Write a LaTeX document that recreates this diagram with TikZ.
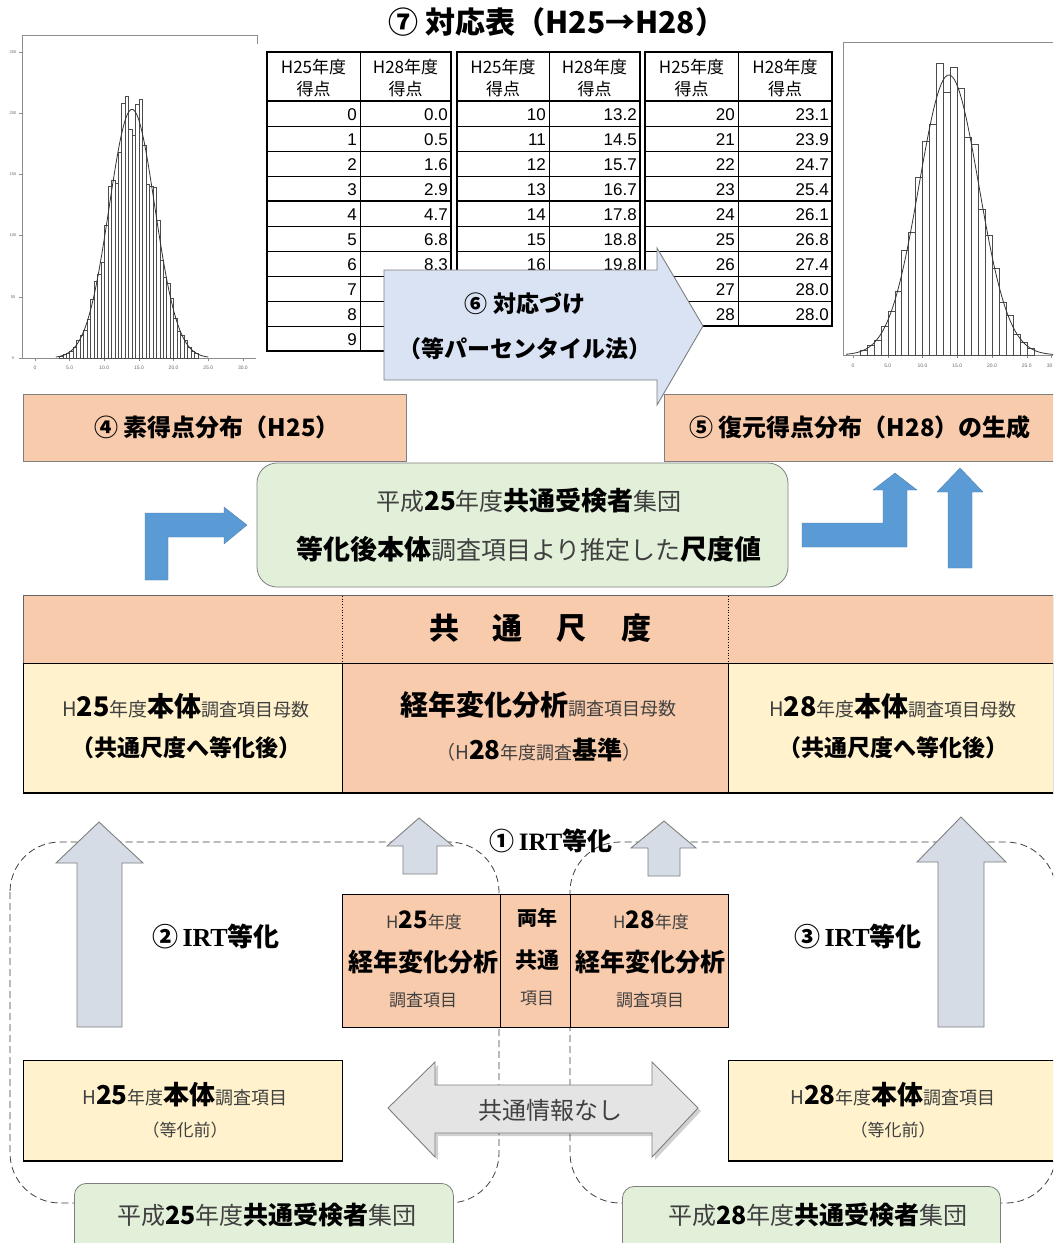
\documentclass[tikz,border=0pt]{standalone}
\usepackage{fontspec}
\setmainfont{Noto Sans CJK JP}
\newfontfamily\lsans{Liberation Sans}
\newfontfamily\lserif{Liberation Serif}
\definecolor{peach}{HTML}{F8CBAD}
\definecolor{lyellow}{HTML}{FFF2CC}
\definecolor{lgreen}{HTML}{E2F0D9}
\definecolor{lblue}{HTML}{DAE3F3}
\definecolor{gblue}{HTML}{D6DCE5}
\definecolor{mblue}{HTML}{5B9BD5}
\definecolor{lgray}{HTML}{E4E4E4}
\definecolor{txtg}{HTML}{404040}
\definecolor{edge}{HTML}{7F7F7F}
\newcommand\fsz[1]{\fontsize{#1}{#1}\selectfont}
\newcommand\bx[2]{{\fsz{#1}\bfseries #2}}
\newcommand\rx[2]{{\fsz{#1}\color{txtg}#2}}
\tikzset{
  txt/.style={inner sep=0pt, outer sep=0pt, anchor=center},
  numtxt/.style={inner sep=0pt, anchor=east, font=\lsans\fsz{17}},
  hdrtxt/.style={inner sep=0pt, anchor=center, font=\fsz{17}},
  rowline/.style={draw=black, line width=0.6pt},
  tborder/.style={draw=black, line width=1.8pt},
  boxst/.style={draw=edge, line width=0.8pt},
  cellst/.style={draw=black, line width=0.8pt},
  histbar/.style={draw=black!70, line width=0.35pt, fill=white},
  histcurve/.style={draw=black!80, line width=0.8pt},
  axisst/.style={draw=black!45, line width=0.8pt},
  uparrow/.style={fill=gblue, draw=edge, line width=0.9pt, line join=miter},
  bluearrow/.style={fill=mblue, draw=mblue!80!black, line width=0.3pt},
  dashrect/.style={draw=black!75, dashed, dash pattern=on 7pt off 4pt, line width=0.8pt, rounded corners=50pt},
}
% table: xL xM xR nrows prefix
\newcommand\cortable[5]{%
  \foreach \k in {1,...,#4} {\draw[rowline] (#1,{101+25*\k}) -- (#3,{101+25*\k});}
  \draw[rowline] (#2,52) -- (#2,{101+25*#4});
  \draw[draw=black, line width=1.2pt] (#1,201) -- (#3,201);
  \draw[tborder] (#1,101) -- (#3,101);
  \draw[tborder] (#1,52) rectangle (#3,{101+25*#4});
  \node[hdrtxt] (#5ha) at ({(#1+#2)/2},67) {H25年度};
  \node[hdrtxt] (#5hb) at ({(#1+#2)/2},89) {得点};
  \node[hdrtxt] (#5hc) at ({(#2+#3)/2},67) {H28年度};
  \node[hdrtxt] (#5hd) at ({(#2+#3)/2},89) {得点};
}
\begin{document}
\begin{tikzpicture}[x=1pt,y=-1pt]
\clip (0,0) rectangle (1053,1243);
\fill[white] (0,0) rectangle (1053,1243);

% ---------- title ----------
\node[txt] (title) at (557,22) {\bx{30}{⑦ 対応表（H25→H28）}};

% ---------- left histogram ----------
\draw[axisst] (22,358) -- (22,35) -- (257,35) -- (257,44);
\draw[axisst] (22,358) -- (256,358);
\foreach \v/\lab in {0/0,50/50,100/100,150/150,200/200,250/250} {
  \draw[axisst, line width=0.5pt] (19,{358-1.225*\v}) -- (22,{358-1.225*\v});
  \node[txt, font=\lsans\fsz{4}, text=black!60] (lyl\v) at (13,{358-1.225*\v}) {\lab};
}
\foreach \s/\lab in {0/0,5/5.0,10/10.0,15/15.0,20/20.0,25/25.0,30/30.0} {
  \draw[axisst, line width=0.5pt] ({35+6.93*\s},358) -- ({35+6.93*\s},361);
  \node[txt, font=\lsans\fsz{5}, text=black!60] (lxl\s) at ({35+6.93*\s},368) {\lab};
}
\foreach \s in {3.5,4.0,...,23.0} {
  \pgfmathsetmacro\hh{203*exp(-((\s+0.25-14)*(\s+0.25-14))/21.78)*(1+0.12*sin(\s*557))}
  \draw[histbar] ({35+6.93*\s},358) rectangle ({35+6.93*(\s+0.5)},{358-1.225*\hh});
}
\draw[histcurve] plot[domain=3:25, samples=90, smooth] ({35+6.93*\x},{358-1.225*203*exp(-(\x-14)*(\x-14)/21.78)});

% ---------- right histogram ----------
\draw[axisst] (843,355) -- (843,42) -- (1053,42);
\draw[axisst] (843,355) -- (1053,355);
\foreach \s/\lab in {0/0,5/5.0,10/10.0,15/15.0,20/20.0,25/25.0} {
  \draw[axisst, line width=0.5pt] ({853+6.95*\s},355) -- ({853+6.95*\s},358);
  \node[txt, font=\lsans\fsz{5}, text=black!60] (rxl\s) at ({853+6.95*\s},366) {\lab};
}
\draw[axisst, line width=0.5pt] (1051.5,355) -- (1051.5,358);
\node[txt, anchor=east, font=\lsans\fsz{5}, text=black!60] (rxl30) at (1052.5,366) {30};
\foreach \s in {1,...,25} {
  \pgfmathsetmacro\hh{283*exp(-((\s+0.5-13.8)*(\s+0.5-13.8))/36.98)*(1+0.08*sin(\s*577))}
  \draw[histbar] ({853+6.95*\s},355) rectangle ({853+6.95*(\s+1)},{355-\hh});
}
\draw[histcurve] plot[domain=-1:29, samples=100, smooth] ({853+6.95*\x},{355-280*exp(-(\x-13.8)*(\x-13.8)/36.98)});

% ---------- correspondence tables ----------
\cortable{267}{360}{451}{10}{ta}
\cortable{457}{549}{640}{10}{tb}
\cortable{645}{738}{832}{9}{tc}
\foreach \a/\b [count=\i from 0] in {0/0.0,1/0.5,2/1.6,3/2.9,4/4.7,5/6.8,6/8.3} {
  \node[numtxt] (taa\i) at (357,{114.5+25*\i}) {\a};
  \node[numtxt] (tab\i) at (448,{114.5+25*\i}) {\b};
}
\foreach \a [count=\i from 7] in {7,8,9} {
  \node[numtxt] (taa\i) at (357,{114.5+25*\i}) {\a};
}
\foreach \a/\b [count=\i from 0] in {10/13.2,11/14.5,12/15.7,13/16.7,14/17.8,15/18.8,16/19.8} {
  \node[numtxt] (tba\i) at (546,{114.5+25*\i}) {\a};
  \node[numtxt] (tbb\i) at (637,{114.5+25*\i}) {\b};
}
\foreach \a/\b [count=\i from 0] in {20/23.1,21/23.9,22/24.7,23/25.4,24/26.1,25/26.8,26/27.4,27/28.0,28/28.0} {
  \node[numtxt] (tca\i) at (735,{114.5+25*\i}) {\a};
  \node[numtxt] (tcb\i) at (829,{114.5+25*\i}) {\b};
}

% ---------- arrow 6 ----------
\draw[fill=lblue, draw=edge, line width=0.9pt, line join=miter] (384,270) -- (657,270) -- (657,248) -- (703,326) -- (657,405) -- (657,380) -- (384,380) -- cycle;
\node[txt] (a6a) at (525,304) {\bx{23}{⑥ 対応づけ}};
\node[txt] (a6b) at (525,349) {\bx{23}{（等パーセンタイル法）}};

% ---------- boxes 4 and 5 ----------
\node[boxst, fill=peach, minimum width=383pt, minimum height=67pt, inner sep=0pt] (b4) at (214.5,427.5) {};
\node[txt] (b4t) at (217,427) {\bx{24}{④ 素得点分布（H25）}};
\node[boxst, fill=peach, minimum width=396pt, minimum height=67pt, inner sep=0pt] (b5) at (862,427.5) {};
\node[txt] (b5t) at (860,427) {\bx{24}{⑤ 復元得点分布（H28）の生成}};

% ---------- green box ----------
\node[boxst, fill=lgreen, minimum width=531pt, minimum height=124pt, rounded corners=20pt, inner sep=0pt] (gb) at (522.5,525) {};
\node[txt] (gb1) at (529,501) {\rx{24}{平成}\bx{26}{25}\rx{24}{年度}\bx{26}{共通受検者}\rx{24}{集団}};
\node[txt] (gb2) at (529,549) {\bx{27}{等化後本体}\rx{25}{調査項目より推定した}\bx{27}{尺度値}};

% ---------- blue arrows ----------
\draw[bluearrow] (145,580) -- (145,513) -- (224,513) -- (224,507) -- (247,525) -- (224,544) -- (224,537) -- (168,537) -- (168,580) -- cycle;
\draw[bluearrow] (802,547) -- (907,547) -- (907,490) -- (917,490) -- (895,473) -- (873,490) -- (883,490) -- (883,523) -- (802,523) -- cycle;
\draw[bluearrow] (948,568) -- (948,492) -- (937,492) -- (960,468) -- (983,492) -- (972,492) -- (972,568) -- cycle;

% ---------- common scale ----------
\node[cellst, draw=black!60, fill=peach, minimum width=1030pt, minimum height=68pt, inner sep=0pt] (cst) at (538,629) {};
\draw[black, line width=0.7pt, dotted] (342,596) -- (342,662);
\draw[black, line width=0.7pt, dotted] (728,596) -- (728,662);
\node[txt] (cstt) at (540,628) {\bx{30}{共\hspace{34pt}通\hspace{34pt}尺\hspace{34pt}度}};
\node[cellst, fill=lyellow, minimum width=319pt, minimum height=130pt, inner sep=0pt] (c1) at (182.5,728) {};
\node[cellst, fill=peach, minimum width=386pt, minimum height=130pt, inner sep=0pt] (c2) at (535,728) {};
\node[cellst, fill=lyellow, minimum width=325pt, minimum height=130pt, inner sep=0pt] (c3) at (890.5,728) {};
\draw[black, line width=1.6pt] (23,793) -- (1053,793);
\node[txt] (c1a) at (186,706) {\rx{20}{H}\bx{27}{25}\rx{19}{年度}\bx{27}{本体}\rx{18}{調査項目母数}};
\node[txt] (c1b) at (186,748) {\bx{23}{（共通尺度へ等化後）}};
\node[txt] (c2a) at (538,705) {\bx{28}{経年変化分析}\rx{18}{調査項目母数}};
\node[txt] (c2b) at (539,750) {\rx{19}{（H}\bx{26}{28}\rx{18}{年度調査}\bx{25}{基準}\rx{19}{）}};
\node[txt] (c3a) at (893,706) {\rx{20}{H}\bx{27}{28}\rx{19}{年度}\bx{27}{本体}\rx{18}{調査項目母数}};
\node[txt] (c3b) at (893,748) {\bx{23}{（共通尺度へ等化後）}};

% ---------- lower section ----------
\draw[dashrect] (10,842) rectangle (499,1203);
\draw[dashrect] (570,842) rectangle (1056,1203);

\node[cellst, fill=peach, minimum width=158pt, minimum height=133pt, inner sep=0pt] (mA) at (421,960.5) {};
\node[cellst, fill=peach, minimum width=70pt, minimum height=133pt, inner sep=0pt] (mB) at (535,960.5) {};
\node[cellst, fill=peach, minimum width=158pt, minimum height=133pt, inner sep=0pt] (mC) at (649,960.5) {};
\node[txt] (mA1) at (424,920) {\rx{17}{H}\bx{24}{25}\rx{17}{年度}};
\node[txt] (mA2) at (423,962) {\bx{25}{経年変化分析}};
\node[txt] (mA3) at (423,1000) {\rx{17}{調査項目}};
\node[txt] (mB1) at (537,918) {\bx{20}{両年}};
\node[txt] (mB2) at (537,960) {\bx{22}{共通}};
\node[txt] (mB3) at (537,998) {\rx{17}{項目}};
\node[txt] (mC1) at (651,920) {\rx{17}{H}\bx{24}{28}\rx{17}{年度}};
\node[txt] (mC2) at (650,962) {\bx{25}{経年変化分析}};
\node[txt] (mC3) at (650,1000) {\rx{17}{調査項目}};

% up arrows
\draw[uparrow] (77,1027) -- (77,863) -- (56,863) -- (99,822) -- (143,863) -- (122,863) -- (122,1027) -- cycle;
\draw[uparrow] (403,874) -- (403,846) -- (387,846) -- (419,818) -- (453,846) -- (437,846) -- (437,874) -- cycle;
\draw[uparrow] (648,876) -- (648,848) -- (631,848) -- (664,821) -- (696,848) -- (680,848) -- (680,876) -- cycle;
\draw[uparrow] (938,1027) -- (938,862) -- (917,862) -- (961,817) -- (1006,862) -- (984,862) -- (984,1027) -- cycle;

\node[txt] (irt1) at (551,841) {\fsz{25}\bfseries ①\,{\lserif IRT}等化};
\node[txt] (irt2) at (216,936) {\fsz{26}\bfseries ②\,{\lserif IRT}等化};
\node[txt] (irt3) at (858,936) {\fsz{26}\bfseries ③\,{\lserif IRT}等化};

% yellow boxes
\node[cellst, fill=lyellow, minimum width=319pt, minimum height=101pt, inner sep=0pt] (yL) at (182.5,1110.5) {};
\node[cellst, fill=lyellow, minimum width=330pt, minimum height=101pt, inner sep=0pt] (yR) at (893,1110.5) {};
\draw[black, line width=1.4pt] (23,1161) -- (342,1161);
\draw[black, line width=1.4pt] (728,1161) -- (1053,1161);
\node[txt] (yL1) at (185,1095) {\rx{19}{H}\bx{26}{25}\rx{18}{年度}\bx{26}{本体}\rx{18}{調査項目}};
\node[txt] (yL2) at (185,1130) {\rx{17}{（等化前）}};
\node[txt] (yR1) at (893,1095) {\rx{19}{H}\bx{26}{28}\rx{18}{年度}\bx{26}{本体}\rx{18}{調査項目}};
\node[txt] (yR2) at (893,1130) {\rx{17}{（等化前）}};

% double arrow
\fill[black, opacity=0.18] (391,1111) -- (438,1065) -- (438,1088) -- (655,1088) -- (655,1065) -- (701,1111) -- (655,1160) -- (655,1136) -- (438,1136) -- (438,1160) -- cycle;
\draw[fill=lgray, draw=edge, line width=0.9pt, line join=miter] (388,1108) -- (435,1062) -- (435,1085) -- (652,1085) -- (652,1062) -- (698,1108) -- (652,1157) -- (652,1133) -- (435,1133) -- (435,1157) -- cycle;
\node[txt] (nocom) at (550,1110) {\rx{24}{共通情報なし}};

% bottom green boxes
\node[boxst, fill=lgreen, minimum width=379pt, minimum height=90pt, rounded corners=12pt, inner sep=0pt, anchor=north west] (gL) at (74,1183) {};
\node[boxst, fill=lgreen, minimum width=378pt, minimum height=90pt, rounded corners=12pt, inner sep=0pt, anchor=north west] (gR) at (622,1186) {};
\node[txt] (gL1) at (267,1215) {\rx{24}{平成}\bx{25}{25}\rx{24}{年度}\bx{25}{共通受検者}\rx{24}{集団}};
\node[txt] (gR1) at (818,1215) {\rx{24}{平成}\bx{25}{28}\rx{24}{年度}\bx{25}{共通受検者}\rx{24}{集団}};
\end{tikzpicture}
\end{document}
